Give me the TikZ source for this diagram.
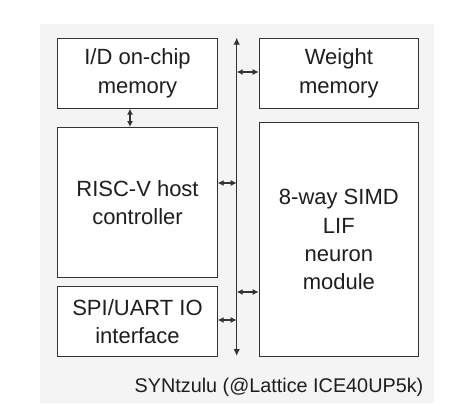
\documentclass[tikz,border=0pt]{standalone}
\usepackage{fontspec}
\setmainfont{Liberation Sans}
\usetikzlibrary{arrows.meta}
\definecolor{bggray}{HTML}{F4F4F4}
\definecolor{edge}{HTML}{333333}
\definecolor{txt}{HTML}{1E1E1E}
\tikzset{
  block/.style={draw=edge, line width=1pt, fill=white, text=txt, align=center,
    font=\fontsize{22}{28.3}\selectfont, inner sep=0pt},
  link/.style={draw=edge, line width=1.1pt, {Latex[length=6pt,width=6pt]}-{Latex[length=6pt,width=6pt]}},
  bus/.style={draw=edge, line width=1.2pt, {Latex[length=7pt,width=6.5pt]}-{Latex[length=7pt,width=6.5pt]}}
}
\begin{document}
\begin{tikzpicture}[x=1pt,y=-1pt]
\useasboundingbox (0,0) rectangle (452,418);
\fill[bggray] (40,24) rectangle (434,403);
\node[block, minimum width=159.4pt, minimum height=70pt, anchor=north west] (idm) at (57.3,37.7) {I/D on-chip\\memory};
\node[block, minimum width=159.4pt, minimum height=149.7pt, anchor=north west] (risc) at (57.3,127) {RISC-V host\\controller};
\node[block, minimum width=159.4pt, minimum height=70pt, anchor=north west] (spi) at (57.3,286) {SPI/UART IO\\interface};
\node[block, minimum width=159.3pt, minimum height=70pt, anchor=north west] (wm) at (258.7,37.7) {Weight\\memory};
\node[block, minimum width=159.3pt, minimum height=233.7pt, anchor=north west] (simd) at (258.7,122.3) {8-way SIMD\\LIF\\neuron\\module};
\coordinate (bt) at (236.7,37.7);
\coordinate (bb) at (236.7,356);
\draw[bus] (bt) -- (bb);
\draw[link] (idm.south -| 130,0) -- (risc.north -| 130,0);
\draw[link] (wm.west |- 0,72) -- (bt |- 0,72);
\draw[link] (risc.east |- 0,183) -- (bt |- 0,183);
\draw[link] (simd.west |- 0,292) -- (bt |- 0,292);
\draw[link] (spi.east |- 0,320) -- (bt |- 0,320);
\node[anchor=base east, text=txt, font=\fontsize{19.8}{24}\selectfont, inner sep=0pt] (lbl) at (423.5,392.5) {SYNtzulu (@Lattice ICE40UP5k)};
\end{tikzpicture}
\end{document}
